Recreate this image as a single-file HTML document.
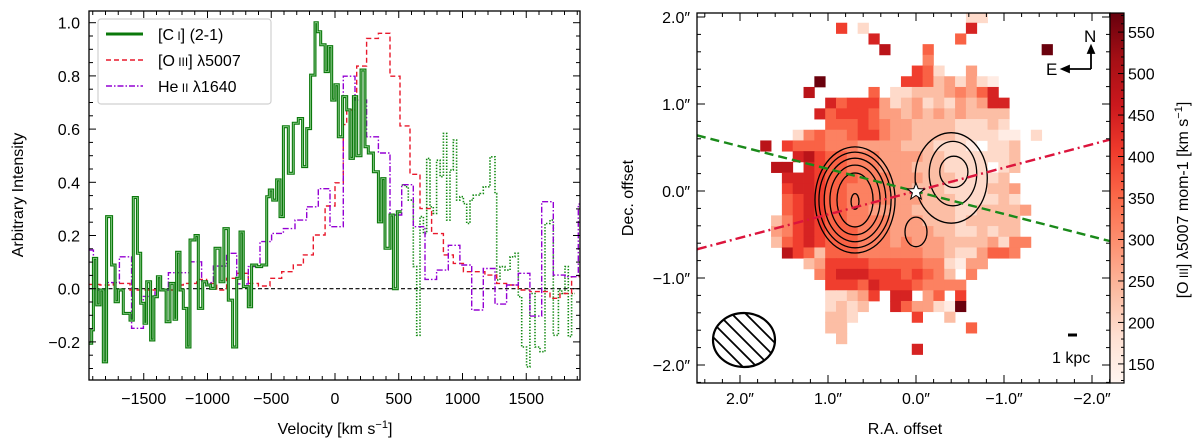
<!DOCTYPE html>
<html><head><meta charset="utf-8"><style>
html,body{margin:0;padding:0;background:#fff;}
svg{display:block;font-family:"Liberation Sans",sans-serif;}
</style></head><body>
<svg id="fig" width="1200" height="448" viewBox="0 0 1200 448" xmlns="http://www.w3.org/2000/svg">
<defs>
<linearGradient id="reds" x1="0" y1="1" x2="0" y2="0">
<stop offset="0" stop-color="#fff5f0"/><stop offset="0.125" stop-color="#fee0d2"/><stop offset="0.25" stop-color="#fcbba1"/><stop offset="0.375" stop-color="#fc9272"/><stop offset="0.5" stop-color="#fb6a4a"/><stop offset="0.625" stop-color="#ef3b2c"/><stop offset="0.75" stop-color="#cb181d"/><stop offset="0.875" stop-color="#a50f15"/><stop offset="1" stop-color="#67000d"/>
</linearGradient>
<clipPath id="clipL"><rect x="89" y="11" width="491" height="369"/></clipPath>
<clipPath id="clipR"><rect x="697" y="13" width="413" height="370"/></clipPath>
<clipPath id="clipBeam"><ellipse cx="744" cy="340" rx="31" ry="27"/></clipPath>
</defs>
<g id="left"></g>
<g id="right"></g>
</svg>
<script>
// ---------- LEFT PANEL DATA ----------
const ciEdges = [-1927,-1908,-1895,-1869,-1843,-1817,-1791,-1752,-1725,-1699,-1660,-1608,-1582,-1550,-1524,-1498,-1477,-1446,-1420,-1393,-1367,-1325,-1294,-1263,-1242,-1216,-1190,-1163,-1137,-1098,-1072,-1038,-1007,-975,-941,-902,-871,-837,-803,-771,-745,-719,-680,-654,-614,-575,-536,-515,-489,-458,-431,-405,-366,-327,-288,-254,-222,-191,-157,-139,-112,-78,-52,-26,0,26,60,92,118,144,170,204,235,261,301,340,366,392,431,458,489,523];
const ciVals = [-0.205,-0.155,0.114,-0.061,-0.005,-0.275,0.271,0.089,-0.049,-0.005,-0.093,-0.118,0.343,0.133,-0.055,-0.13,0.026,-0.193,-0.03,0.045,-0.005,-0.124,0.02,-0.115,0.137,-0.005,-0.074,-0.219,0.183,0.2,-0.074,0.026,0.014,0.001,0.152,0.026,0.226,-0.043,-0.219,0.039,0.213,0.008,-0.068,0.089,0.083,0.089,0.346,0.371,0.333,0.409,0.271,0.609,0.434,0.622,0.64,0.459,0.602,0.803,1.0,0.966,0.917,0.816,0.91,0.709,0.767,0.571,0.722,0.672,0.49,0.722,0.5,0.822,0.534,0.51,0.44,0.251,0.414,0.152,0.277,0.0,0.289];
const ciDotEdges = [523,549,575,614,641,667,693,719,745,771,797,824,850,876,902,928,954,980,1007,1033,1059,1085,1137,1163,1216,1255,1268,1294,1333,1373,1412,1438,1464,1503,1529,1569,1608,1647,1686,1712,1752,1778,1804,1830,1856,1882];
const ciDotVals = [0.39,0.383,0.333,0.083,-0.175,0.271,0.208,0.49,0.308,0.283,0.483,0.421,0.584,0.258,0.446,0.559,0.333,0.346,0.32,0.245,0.333,0.352,0.358,0.383,0.496,0.358,0.033,0.083,0.07,0.12,0.133,-0.03,-0.219,-0.294,-0.018,-0.219,-0.237,0.245,0.258,-0.175,-0.005,-0.018,0.083,-0.18,-0.018];
const oiiiEdges = [-1927,-1843,-1739,-1608,-1242,-1190,-1085,-1007,-928,-850,-771,-680,-601,-510,-418,-327,-248,-170,-78,0,65,92,170,248,340,431,510,588,667,758,850,928,1007,1176,1268,1346,1438,1529,1686,1765,1856,1920];
const oiiiVals = [0.016,0.014,0.02,-0.005,0.014,0.02,0.035,0.02,-0.005,0.039,0.058,0.02,0.01,0.039,0.064,0.089,0.127,0.202,0.311,0.398,0.617,0.672,0.837,0.941,0.96,0.799,0.612,0.43,0.301,0.207,0.127,0.095,0.064,0.051,0.02,0.014,-0.005,-0.011,-0.036,-0.018,0.045];
const heiiEdges = [-1927,-1895,-1791,-1691,-1595,-1503,-1412,-1307,-1137,-1046,-954,-850,-771,-680,-588,-497,-405,-314,-222,-131,-39,65,157,248,340,431,523,614,706,797,889,980,1072,1163,1255,1346,1438,1529,1621,1712,1804,1908,1920];
const heiiVals = [0.145,-0.005,0.023,0.12,-0.149,-0.029,-0.005,0.06,0.101,0.023,0.085,0.133,0.018,0.083,0.177,0.208,0.226,0.258,0.308,0.376,0.233,0.799,0.709,0.571,0.51,0.277,0.391,0.233,0.035,0.07,0.163,0.089,-0.08,0.076,-0.058,0.014,0.058,-0.103,0.327,0.051,0.045,0.318];
const xTickVals = [-1500,-1000,-500,0,500,1000,1500];
const xTickLabels = ["\u22121500","\u22121000","\u2212500","0","500","1000","1500"];
const yTickVals = [-0.2,0,0.2,0.4,0.6,0.8,1.0];
const yTickLabels = ["\u22120.2","0.0","0.2","0.4","0.6","0.8","1.0"];

// ---------- RIGHT PANEL DATA ----------
// cell levels: '.' empty, 0-9, A ; columns c=-8..19, rows r=-1..30
const mapRows = [
"....................11......",
"........6.1.........7.......",
"...........7.......5........",
"............8...5..........A",
"................4...........",
"...............651..3.......",
"......A.......665231310.....",
".....8.....5.1122234357.....",
".......75666312312132377....",
"......756665332323232222....",
".......55565433222211121....",
"....145445664332222111100.1.",
".8.655544433332221110.112...",
"....786554443333221111112...",
"..88.76554443332221111.12...",
"...777655544433322211112....",
"...6776554444332221111223...",
"...5676554444333222111121...",
"...56765544333322221122223..",
"..24676554444333222122222...",
"..34676555444333322112122...",
"..256765554443433322223144..",
"...8652555444444332113554...",
".....23666655555441033......",
"......4677766656542.4.......",
".......6665766654444........",
".......11236.77.35.6........",
".......1212..753310A........",
".......221.....6..2.........",
".......22...........5.......",
"........2...................",
"...............7............"
];
const levelValues = [150,192,234,276,318,360,402,444,486,528,570];
const cbTicks = [150,200,250,300,350,400,450,500,550];
const raTicks = [2,1,0,-1,-2];
const raLabels = ["2.0\u2033","1.0\u2033","0.0\u2033","\u22121.0\u2033","\u22122.0\u2033"];
const decTicks = [2,1,0,-1,-2];
const decLabels = ["2.0\u2033","1.0\u2033","0.0\u2033","\u22121.0\u2033","\u22122.0\u2033"];
// contours: [raCenter, decCenter, raRadius, decRadius]
const contourLeft = [[0.693,-0.103,0.455,0.61],[0.693,-0.103,0.41,0.55],[0.693,-0.103,0.35,0.48],[0.693,-0.103,0.285,0.40],[0.693,-0.103,0.205,0.31],[0.693,-0.12,0.045,0.09]];
const contourRight = [[-0.43,0.22,0.16,0.18],[-0.42,0.2,0.27,0.37],[-0.4,0.15,0.41,0.52],[0.0,-0.47,0.125,0.17]];

const NS="http://www.w3.org/2000/svg";
function mk(parent,tag,attrs,text){const e=document.createElementNS(NS,tag);for(const k in attrs)e.setAttribute(k,attrs[k]);if(text!==undefined)e.textContent=text;parent.appendChild(e);return e;}

// ===== LEFT =====
const L=document.getElementById('left');
const xL=v=>335+v*0.1275;
const yL=i=>288.7-i*266;
function stepPath(edges,vals){let d='M'+xL(edges[0]).toFixed(1)+','+yL(vals[0]).toFixed(1);for(let i=0;i<vals.length;i++){if(i>0)d+='V'+yL(vals[i]).toFixed(1);d+='H'+xL(edges[i+1]).toFixed(1);}return d;}
const gL=mk(L,'g',{'clip-path':'url(#clipL)'});


let zl=mk(gL,'line',{x1:89,x2:580,y1:yL(0),y2:yL(0),stroke:'#000','stroke-width':1.2,'stroke-dasharray':'4 2.5'});

let p;
p=mk(gL,'path',{d:stepPath(ciDotEdges,ciDotVals),fill:'none',stroke:'#138a13','stroke-width':1.6,'stroke-dasharray':'1.4 1.6'});

p=mk(gL,'path',{d:stepPath(oiiiEdges,oiiiVals),fill:'none',stroke:'#e8192c','stroke-width':1.4,'stroke-dasharray':'5 3'});

p=mk(gL,'path',{d:stepPath(heiiEdges,heiiVals),fill:'none',stroke:'#9400d3','stroke-width':1.4,'stroke-dasharray':'6 2 1.5 2'});

p=mk(gL,'path',{d:stepPath(ciEdges,ciVals),fill:'none',stroke:'#0b780b','stroke-width':3,'stroke-linejoin':'miter'});

p=mk(gL,'path',{d:stepPath(ciEdges,ciVals),fill:'none',stroke:'#8fcf8f','stroke-width':0.8});

// ticks
let tk=mk(L,'g',{stroke:'#000','stroke-width':1});

for(let v=-1900;v<=1900;v+=100){const x=xL(v);if(x<89||x>580)continue;const len=(v%500===0)?7:4;mk(tk,'line',{x1:x,x2:x,y1:380,y2:380-len});mk(tk,'line',{x1:x,x2:x,y1:11,y2:11+len});}
for(let k=-6;k<=20;k++){const i=k*0.05;const y=yL(i);if(y<11||y>380)continue;const len=(k%4===0)?7:4;mk(tk,'line',{x1:89,x2:89+len,y1:y,y2:y});mk(tk,'line',{x1:580,x2:580-len,y1:y,y2:y});}
xTickVals.forEach((v,i)=>{const t=mk(L,'text',{x:xL(v),y:404,'text-anchor':'middle','font-size':16},xTickLabels[i]);});
yTickVals.forEach((v,i)=>{const t=mk(L,'text',{x:80,y:yL(v)+6,'text-anchor':'end','font-size':16},yTickLabels[i]);});
let fr=mk(L,'rect',{x:89,y:11,width:491,height:369,fill:'none',stroke:'#000','stroke-width':1.3});

let xt=mk(L,'text',{x:335,y:434,'text-anchor':'middle','font-size':16});
xt.innerHTML='Velocity [km s<tspan dy="-6" font-size="11">\u22121</tspan><tspan dy="6">]</tspan>';

let yt=mk(L,'text',{x:0,y:0,'text-anchor':'middle','font-size':16,transform:'translate(23,195) rotate(-90)'},'Arbitrary Intensity');

// legend
let lg=mk(L,'g',{});

mk(lg,'rect',{x:98,y:19,width:173,height:85,rx:3,fill:'#fff',stroke:'#d0d0d0','stroke-width':1.2});
let e1=mk(lg,'g',{});
mk(e1,'line',{x1:106,x2:143,y1:34,y2:34,stroke:'#0b780b','stroke-width':3});
mk(e1,'text',{x:158,y:40,'font-size':16}).innerHTML='[C<tspan font-size="12"> I</tspan>] (2-1)';
let e2=mk(lg,'g',{});
mk(e2,'line',{x1:106,x2:143,y1:60,y2:60,stroke:'#e8192c','stroke-width':1.4,'stroke-dasharray':'5 3'});
mk(e2,'text',{x:158,y:66,'font-size':16}).innerHTML='[O<tspan font-size="12"> III</tspan>] \u03bb5007';
let e3=mk(lg,'g',{});
mk(e3,'line',{x1:106,x2:143,y1:86,y2:86,stroke:'#9400d3','stroke-width':1.4,'stroke-dasharray':'6 2 1.5 2'});
mk(e3,'text',{x:158,y:92,'font-size':16}).innerHTML='He<tspan font-size="12"> II</tspan> \u03bb1640';

// ===== RIGHT =====
const R=document.getElementById('right');
const xR=ra=>916-88*ra;
const yR=d=>191-87*d;
const stops=[[255,245,240],[254,224,210],[252,187,161],[252,146,114],[251,106,74],[239,59,44],[203,24,29],[165,15,21],[103,0,13]];
function reds(v){let t=(v-127)/(573-127);t=Math.max(0,Math.min(1,t))*8;const i=Math.min(7,Math.floor(t));const f=t-i;const a=stops[i],b=stops[i+1];return 'rgb('+a.map((c,k)=>Math.round(c+(b[k]-c)*f)).join(',')+')';}
const gR=mk(R,'g',{'clip-path':'url(#clipR)'});

const cellSize=0.123, ra0=0.909, dec0=1.934;
mapRows.forEach((row,ri)=>{const r=ri-1;for(let p=0;p<row.length;p++){const ch=row[p];if(ch==='.')continue;const lvl=ch==='A'?10:parseInt(ch,10);const c=p-8;const raL=ra0-c*cellSize;const decT=dec0-r*cellSize;const x=xR(raL),y=yR(decT);const rc=mk(gR,'rect',{x:x.toFixed(2),y:y.toFixed(2),width:(88*cellSize+0.4).toFixed(2),height:(87*cellSize+0.4).toFixed(2),fill:reds(levelValues[lvl])});

}});
// contours
function contour(arr,name){arr.forEach(cp=>{const e=mk(gR,'ellipse',{cx:xR(cp[0]),cy:yR(cp[1]),rx:cp[2]*88,ry:cp[3]*87,fill:'none',stroke:'#000','stroke-width':1.3});

});}
contour(contourLeft,'contour-east');
contour(contourRight,'contour-west');
// axis lines
let gl=mk(gR,'line',{x1:xR(2.49),y1:yR(0.64),x2:xR(-2.2),y2:yR(-0.575),stroke:'#1a8a1a','stroke-width':2.4,'stroke-dasharray':'9 5'});

let rl=mk(gR,'line',{x1:xR(2.49),y1:yR(-0.67),x2:xR(-2.2),y2:yR(0.59),stroke:'#dc143c','stroke-width':2.4,'stroke-dasharray':'10 4 2 4'});

let st=mk(R,'path',{d:'M916,183 L918.2,188.6 L924.5,189 L919.6,192.8 L921.3,199 L916,195.5 L910.7,199 L912.4,192.8 L907.5,189 L913.8,188.6 Z',fill:'#fff',stroke:'#000','stroke-width':1});

// beam
let bm=mk(R,'g',{});
const hb=mk(bm,'g',{'clip-path':'url(#clipBeam)',stroke:'#000','stroke-width':1.8});
for(let k=-3;k<=3;k++){mk(hb,'line',{x1:744+k*14-40,y1:300,x2:744+k*14+40,y2:380});}
mk(bm,'ellipse',{cx:744,cy:340,rx:31,ry:27,fill:'none',stroke:'#000','stroke-width':2.2});
// compass
let cp=mk(R,'g',{stroke:'#000','stroke-width':1.8,fill:'none'});
mk(cp,'path',{d:'M1091,69 V50 M1066,69 H1091'});
mk(cp,'path',{d:'M1088,53 L1091,46 L1094,53 Z M1069,66 L1062,69 L1069,72 Z',fill:'#000'});
let tn=mk(R,'text',{x:1084,y:42,'font-size':17},'N');
let te=mk(R,'text',{x:1046,y:75,'font-size':17},'E');
let sb=mk(R,'line',{x1:1068,x2:1077,y1:335,y2:335,stroke:'#000','stroke-width':3});
let sl=mk(R,'text',{x:1052,y:363,'font-size':16},'1 kpc');
// ticks
let tr=mk(R,'g',{stroke:'#000','stroke-width':1});
for(let k=-11;k<=13;k++){const ra=k*0.2;const x=xR(ra);if(x<697||x>1110)continue;const len=(k%5===0)?8:4;mk(tr,'line',{x1:x,x2:x,y1:383,y2:383-len});mk(tr,'line',{x1:x,x2:x,y1:13,y2:13+len});}
for(let k=-11;k<=10;k++){const d=k*0.2;const y=yR(d);if(y<13||y>383)continue;const len=(k%5===0)?8:4;mk(tr,'line',{x1:697,x2:697+len,y1:y,y2:y});mk(tr,'line',{x1:1110,x2:1110-len,y1:y,y2:y});}
raTicks.forEach((v,i)=>{const t=mk(R,'text',{x:xR(v),y:404,'text-anchor':'middle','font-size':16},raLabels[i]);});
decTicks.forEach((v,i)=>{const t=mk(R,'text',{x:690,y:yR(v)+6,'text-anchor':'end','font-size':16},decLabels[i]);});
let fr2=mk(R,'rect',{x:697,y:13,width:413,height:370,fill:'none',stroke:'#000','stroke-width':1.3});

let rt=mk(R,'text',{x:905,y:434,'text-anchor':'middle','font-size':16},'R.A. offset');
let dt=mk(R,'text',{x:0,y:0,'text-anchor':'middle','font-size':16,transform:'translate(633,198) rotate(-90)'},'Dec. offset');
// colorbar
const cbY=v=>383-(v-127)*(370/446);
let cb=mk(R,'rect',{x:1110,y:13,width:14,height:370,fill:'url(#reds)',stroke:'#000','stroke-width':1.2});

let cbt=mk(R,'g',{stroke:'#000','stroke-width':1});
for(let v=130;v<=570;v+=10){const y=cbY(v);const len=(v%50===0)?6:3;mk(cbt,'line',{x1:1124,x2:1124-len,y1:y,y2:y});}
cbTicks.forEach(v=>{const t=mk(R,'text',{x:1128,y:cbY(v)+6,'font-size':16},String(v));});
let ct=mk(R,'text',{x:0,y:0,'text-anchor':'middle','font-size':16,transform:'translate(1188,200) rotate(-90)'});
ct.innerHTML='[O<tspan font-size="12"> III</tspan>] \u03bb5007 mom-1 [km s<tspan dy="-6" font-size="11">\u22121</tspan><tspan dy="6">]</tspan>';

</script>
</body></html>
